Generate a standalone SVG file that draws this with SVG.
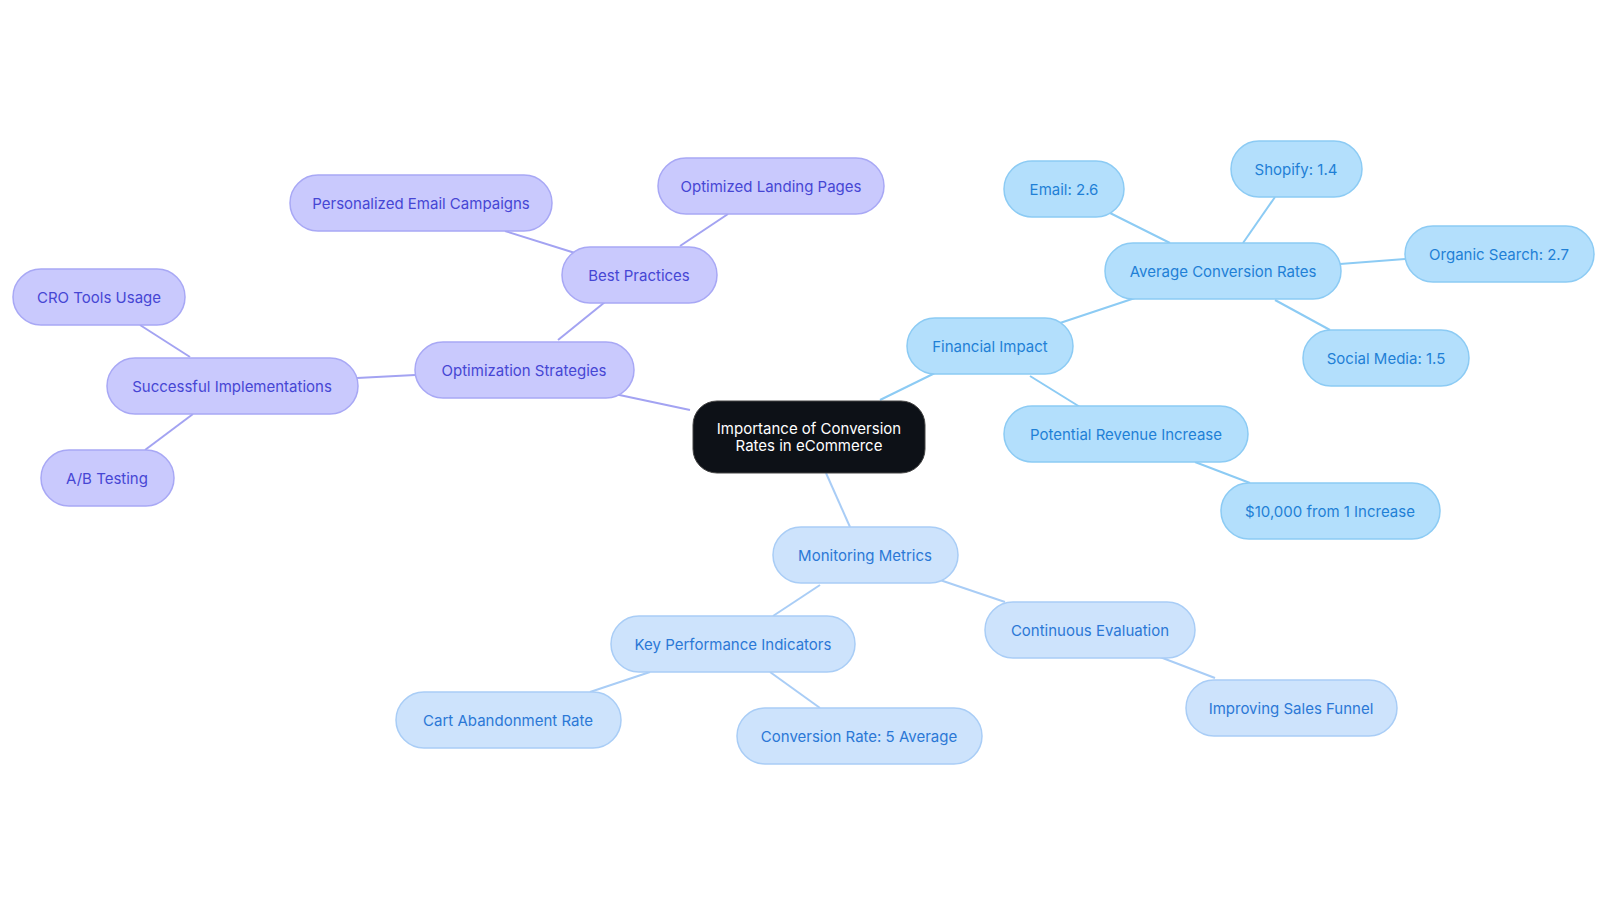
<svg xmlns="http://www.w3.org/2000/svg" width="1600" height="903" viewBox="0 0 1600 903">
<style>
text{font-family:Inter,"Noto Sans",sans-serif;font-size:15px;text-anchor:middle;dominant-baseline:central}
.p rect{fill:#c9c9fd;stroke:#a8a8f5;stroke-width:1.5}.p text{fill:#4646d4}
.b rect{fill:#b3dffc;stroke:#8ccbf4;stroke-width:1.5}.b text{fill:#1f80d6}
.m rect{fill:#cde3fc;stroke:#a9cdf6;stroke-width:1.5}.m text{fill:#2b78d6}
.c rect{fill:#0d1117;stroke:#444}.c text{fill:#fff}
#edges line{stroke-width:2}
.ep{stroke:#a3a3f2}.eb{stroke:#8ccbf4}.em{stroke:#a9cdf6}
</style>
<rect width="1600" height="903" fill="#fff"/>
<g id="edges">
<line class="ep" x1="690" y1="410" x2="610" y2="393"/>
<line class="ep" x1="558" y1="340" x2="605" y2="302"/>
<line class="ep" x1="575" y1="253" x2="505" y2="231"/>
<line class="ep" x1="680" y1="246" x2="728" y2="214"/>
<line class="ep" x1="415" y1="375" x2="357" y2="378"/>
<line class="ep" x1="190" y1="357" x2="140" y2="325"/>
<line class="ep" x1="193" y1="414" x2="145" y2="450"/>
<line class="eb" x1="880" y1="400" x2="935" y2="373"/>
<line class="eb" x1="1060" y1="323" x2="1135" y2="298"/>
<line class="eb" x1="1170" y1="243" x2="1110" y2="213"/>
<line class="eb" x1="1243" y1="243" x2="1275" y2="197"/>
<line class="eb" x1="1340" y1="264" x2="1405" y2="259"/>
<line class="eb" x1="1275" y1="300" x2="1330" y2="330"/>
<line class="eb" x1="1030" y1="376" x2="1080" y2="407"/>
<line class="eb" x1="1195" y1="462" x2="1250" y2="483"/>
<line class="em" x1="826" y1="473" x2="850" y2="527"/>
<line class="em" x1="820" y1="585" x2="773" y2="616"/>
<line class="em" x1="940" y1="580" x2="1005" y2="602"/>
<line class="em" x1="650" y1="672" x2="590" y2="692"/>
<line class="em" x1="770" y1="672" x2="820" y2="708"/>
<line class="em" x1="1160" y1="657" x2="1215" y2="678"/>
</g>
<g id="center" class="c"><rect x="693" y="401" width="232" height="72" rx="24"/><text x="809" y="428">Importance of Conversion</text><text x="809" y="445">Rates in eCommerce</text></g>
<g id="opt" class="p"><rect x="415" y="342" width="219" height="56" rx="28"/><text x="524" y="370">Optimization Strategies</text></g>
<g id="best" class="p"><rect x="562" y="247" width="155" height="56" rx="28"/><text x="639" y="275">Best Practices</text></g>
<g id="email" class="p"><rect x="290" y="175" width="262" height="56" rx="28"/><text x="421" y="203">Personalized Email Campaigns</text></g>
<g id="landing" class="p"><rect x="658" y="158" width="226" height="56" rx="28"/><text x="771" y="186">Optimized Landing Pages</text></g>
<g id="succ" class="p"><rect x="107" y="358" width="251" height="56" rx="28"/><text x="232" y="386">Successful Implementations</text></g>
<g id="cro" class="p"><rect x="13" y="269" width="172" height="56" rx="28"/><text x="99" y="297">CRO Tools Usage</text></g>
<g id="ab" class="p"><rect x="41" y="450" width="133" height="56" rx="28"/><text x="107" y="478">A/B Testing</text></g>
<g id="fin" class="b"><rect x="907" y="318" width="166" height="56" rx="28"/><text x="990" y="346">Financial Impact</text></g>
<g id="avg" class="b"><rect x="1105" y="243" width="236" height="56" rx="28"/><text x="1223" y="271">Average Conversion Rates</text></g>
<g id="em" class="b"><rect x="1004" y="161" width="120" height="56" rx="28"/><text x="1064" y="189">Email: 2.6</text></g>
<g id="shop" class="b"><rect x="1231" y="141" width="131" height="56" rx="28"/><text x="1296" y="169">Shopify: 1.4</text></g>
<g id="org" class="b"><rect x="1405" y="226" width="189" height="56" rx="28"/><text x="1499" y="254">Organic Search: 2.7</text></g>
<g id="soc" class="b"><rect x="1303" y="330" width="166" height="56" rx="28"/><text x="1386" y="358">Social Media: 1.5</text></g>
<g id="rev" class="b"><rect x="1004" y="406" width="244" height="56" rx="28"/><text x="1126" y="434">Potential Revenue Increase</text></g>
<g id="tenk" class="b"><rect x="1221" y="483" width="219" height="56" rx="28"/><text x="1330" y="511">$10,000 from 1 Increase</text></g>
<g id="mon" class="m"><rect x="773" y="527" width="185" height="56" rx="28"/><text x="865" y="555">Monitoring Metrics</text></g>
<g id="kpi" class="m"><rect x="611" y="616" width="244" height="56" rx="28"/><text x="733" y="644">Key Performance Indicators</text></g>
<g id="cont" class="m"><rect x="985" y="602" width="210" height="56" rx="28"/><text x="1090" y="630">Continuous Evaluation</text></g>
<g id="cart" class="m"><rect x="396" y="692" width="225" height="56" rx="28"/><text x="508" y="720">Cart Abandonment Rate</text></g>
<g id="cr" class="m"><rect x="737" y="708" width="245" height="56" rx="28"/><text x="859" y="736">Conversion Rate: 5 Average</text></g>
<g id="funnel" class="m"><rect x="1186" y="680" width="211" height="56" rx="28"/><text x="1291" y="708">Improving Sales Funnel</text></g>
</svg>
